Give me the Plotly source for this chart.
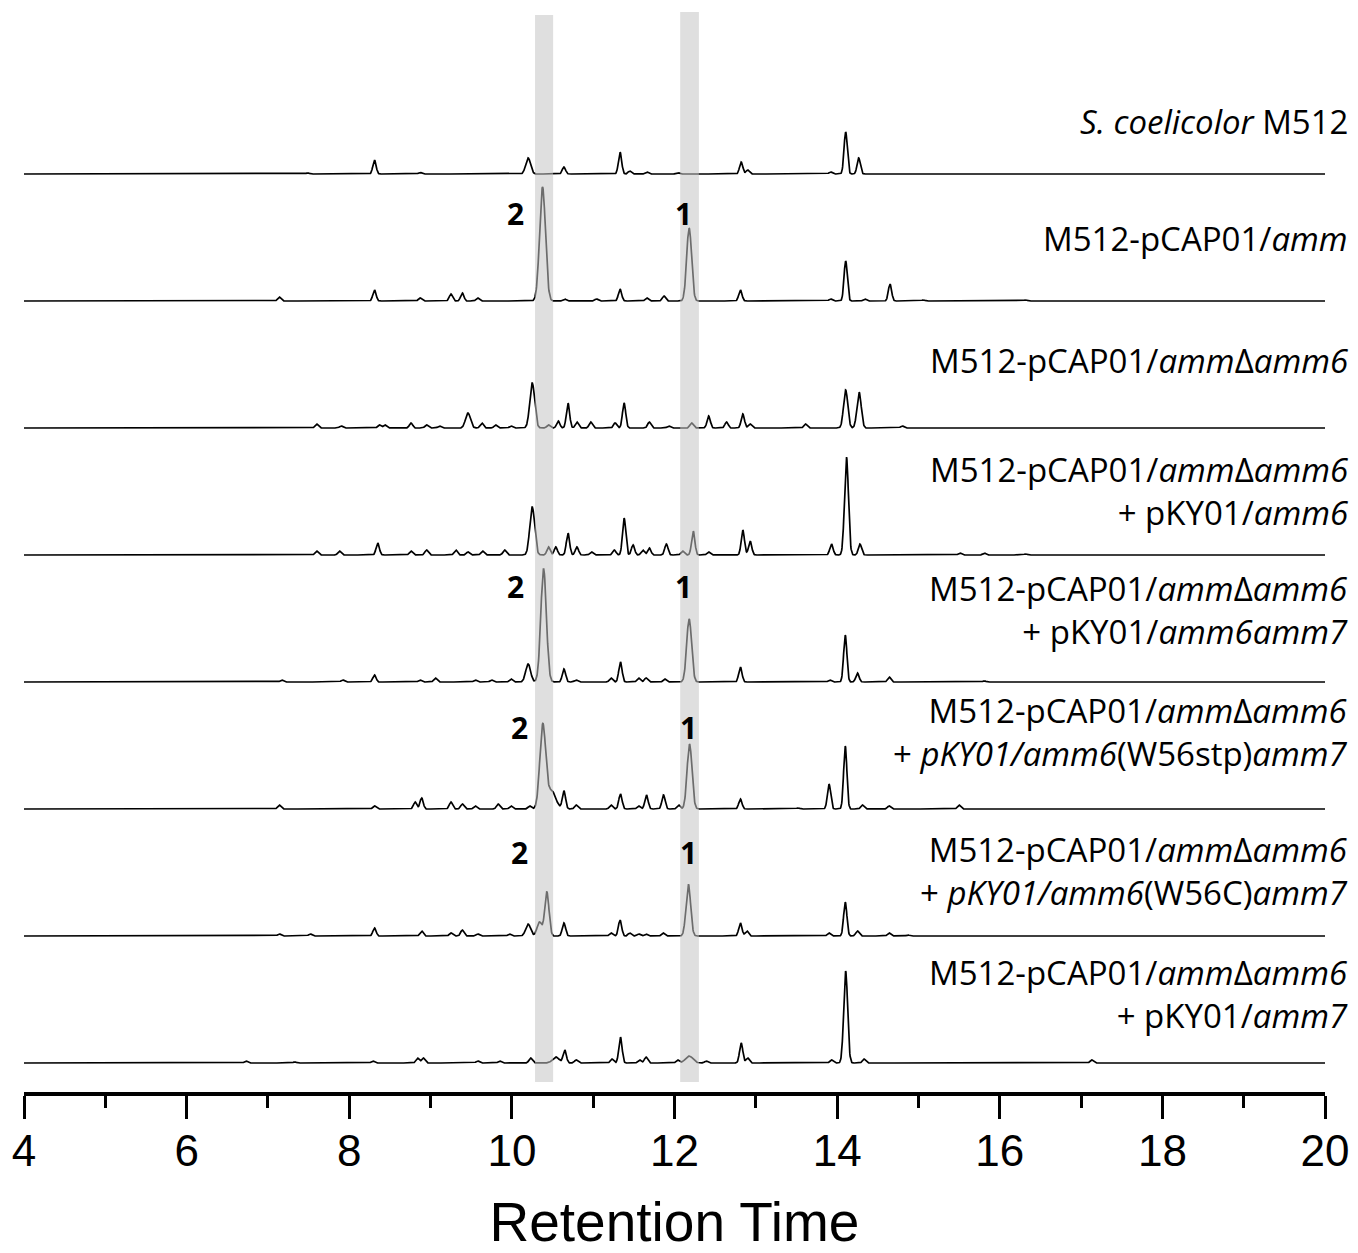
import numpy as np
import plotly.graph_objects as go

# peak tables: (retention time, height[, sigma])
m512_peaks = [(7.49, 1), (8.31, 14), (8.87, 1.5), (10.20, 16, 0.03), (10.64, 7), (11.33, 22),
              (11.45, 3), (11.66, 2), (12.04, 1.5), (12.82, 12), (12.90, 4), (13.92, 2),
              (14.105, 42), (14.265, 16)]
amm_peaks = [(7.14, 4), (8.31, 11), (8.87, 3), (9.25, 7), (9.39, 8), (9.58, 3),
             (10.377, 114, 0.036), (10.65, 2), (11.04, 2), (11.33, 12), (11.66, 3), (11.87, 5),
             (12.18, 73, 0.03), (12.81, 11), (13.92, 2), (14.105, 40), (14.34, 2), (14.65, 17),
             (15.06, 1), (16.32, 1)]
del6_peaks = [(7.60, 4), (7.90, 2), (8.37, 3), (8.44, 3), (8.76, 5), (8.95, 3), (9.11, 2),
              (9.46, 15, 0.03), (9.63, 5), (9.80, 3), (9.99, 2), (10.25, 45, 0.03), (10.45, 3),
              (10.57, 7), (10.69, 25), (10.80, 6), (10.97, 6), (11.27, 5), (11.38, 25), (11.69, 6),
              (11.93, 2), (12.21, 5), (12.42, 12), (12.64, 6), (12.84, 14), (12.93, 4), (13.61, 4),
              (14.105, 38, 0.026), (14.27, 36, 0.026), (14.80, 2)]
amm6_peaks = [(7.60, 4), (7.88, 4), (8.35, 12), (8.76, 4), (8.95, 5), (9.31, 5), (9.46, 3),
              (9.64, 4), (9.91, 5), (10.25, 48, 0.03), (10.45, 8), (10.54, 8), (10.69, 22),
              (10.80, 8), (10.98, 3), (11.26, 5), (11.38, 37), (11.49, 10), (11.61, 5), (11.69, 7),
              (11.90, 11), (12.10, 4), (12.23, 24), (12.42, 3), (12.84, 25), (12.93, 14),
              (13.93, 11), (14.115, 98, 0.024), (14.28, 11), (15.51, 2), (15.81, 2), (16.32, 1)]
amm6amm7_peaks = [(7.17, 2), (7.92, 2), (8.31, 7), (8.87, 2), (9.06, 4), (9.55, 2), (9.75, 2),
                  (9.99, 3), (10.20, 18, 0.03), (10.39, 113, 0.034), (10.64, 13), (10.79, 2),
                  (11.22, 4), (11.335, 20), (11.56, 4), (11.65, 4), (11.88, 3), (12.18, 63, 0.03),
                  (12.81, 15), (13.91, 2), (14.10, 47), (14.25, 9), (14.64, 5), (15.81, 1)]
w56stp_peaks = [(7.14, 4), (8.31, 3), (8.81, 7), (8.89, 11), (9.25, 7), (9.39, 5), (9.55, 3),
                (9.83, 5), (9.99, 3), (10.22, 3), (10.38, 84, 0.036), (10.49, 18, 0.05),
                (10.64, 18), (10.79, 4), (11.22, 4), (11.335, 15), (11.56, 3), (11.655, 14),
                (11.865, 14), (12.05, 4), (12.185, 65, 0.03), (12.81, 10), (13.52, 1),
                (13.90, 25), (14.10, 63), (14.31, 4), (14.64, 3), (15.50, 4)]
w56c_peaks = [(7.14, 2), (7.52, 2), (8.31, 8), (8.89, 5), (9.25, 3), (9.39, 6), (9.58, 2),
              (9.97, 2), (10.20, 12, 0.03), (10.34, 14, 0.03), (10.43, 44, 0.026), (10.64, 13),
              (11.22, 3), (11.33, 16), (11.45, 3), (11.56, 2), (11.65, 2), (11.86, 3),
              (12.17, 52, 0.028), (12.81, 13), (12.89, 5), (13.90, 3), (14.10, 34), (14.25, 5),
              (14.64, 3), (14.87, 1)]
amm7_peaks = [(6.73, 2), (7.33, 1), (8.29, 2), (8.84, 5), (8.91, 5), (9.58, 2), (9.85, 2),
              (10.23, 5), (10.54, 6, 0.04), (10.65, 13), (10.79, 3), (11.23, 4), (11.335, 26),
              (11.57, 3), (11.65, 6), (12.04, 3), (12.18, 7, 0.045), (12.39, 2), (12.82, 20),
              (12.90, 5), (13.93, 3), (14.105, 92, 0.024), (14.33, 4), (17.13, 3)]

strains = ["<i>S. coelicolor</i> M512",
           "M512-pCAP01/<i>amm</i>",
           "M512-pCAP01/<i>amm</i>Δ<i>amm6</i>",
           "M512-pCAP01/<i>amm</i>Δ<i>amm6</i><br>+ pKY01/<i>amm6</i>",
           "M512-pCAP01/<i>amm</i>Δ<i>amm6</i><br>+ pKY01/<i>amm6amm7</i>",
           "M512-pCAP01/<i>amm</i>Δ<i>amm6</i><br>+ <i>pKY01/amm6</i>(W56stp)<i>amm7</i>",
           "M512-pCAP01/<i>amm</i>Δ<i>amm6</i><br>+ <i>pKY01/amm6</i>(W56C)<i>amm7</i>",
           "M512-pCAP01/<i>amm</i>Δ<i>amm6</i><br>+ pKY01/<i>amm7</i>"]
all_peaks = [m512_peaks, amm_peaks, del6_peaks, amm6_peaks,
             amm6amm7_peaks, w56stp_peaks, w56c_peaks, amm7_peaks]

# highlighted compounds 1 and 2
band_2 = (10.285, 10.507)
band_1 = (12.07, 12.30)

# layout positions
STEP = 127
BASE = 29
label_dy = [53, 63, 68, 64, 72, 77, 65, 69]
num_marks = {1: (10.05, 12.11, 88), 4: (10.05, 12.11, 96), 5: (10.09, 12.17, 82), 6: (10.09, 12.17, 84)}

rt = np.arange(4, 20.0001, 0.004)
fig = go.Figure()
n = len(all_peaks)
for i, pk in enumerate(all_peaks):
    off = BASE + STEP * (n - 1 - i)
    sig = np.zeros_like(rt)
    for p in pk:
        w = p[2] if len(p) > 2 else 0.02
        sig += p[1] * np.exp(-0.5 * ((rt - p[0]) / w) ** 2)
    fig.add_trace(go.Scatter(x=rt, y=sig + off, mode="lines",
                             line=dict(color="black", width=1.7), hoverinfo="skip"))
    fig.add_annotation(x=1.0192, xref="paper", y=off + label_dy[i], yref="y",
                       text=strains[i], showarrow=False, xanchor="right", yanchor="middle",
                       align="right", font=dict(family="Open Sans", size=33, color="black"))
    if i in num_marks:
        x2, x1, dy = num_marks[i]
        for xx, t in ((x2, "2"), (x1, "1")):
            fig.add_annotation(x=xx, y=off + dy, text="<b>%s</b>" % t, showarrow=False,
                               font=dict(family="Open Sans", size=30, color="black"))

for b, top in ((band_2, 1077), (band_1, 1080)):
    fig.add_shape(type="rect", x0=b[0], x1=b[1], y0=10, y1=top, xref="x", yref="y",
                  fillcolor="#c4c4c4", opacity=0.55, line_width=0, layer="above")

fig.update_layout(
    width=1358, height=1253,
    margin=dict(l=24, r=33, t=0, b=161, autoexpand=False),
    plot_bgcolor="white", paper_bgcolor="white",
    showlegend=False,
    xaxis=dict(range=[4, 20], showgrid=False, zeroline=False,
               showline=True, linecolor="black", linewidth=3.5,
               ticks="outside", ticklen=23, tickwidth=3, tickcolor="black",
               dtick=2, tick0=4, ticklabelstandoff=-6,
               tickfont=dict(family="Arial, Liberation Sans", size=44, color="black"),
               minor=dict(ticks="outside", ticklen=12, tickwidth=3, tickcolor="black", dtick=1),
               title=dict(text="Retention Time", standoff=69,
                          font=dict(family="Arial, Liberation Sans", size=55, color="black"))),
    yaxis=dict(range=[0, 1092], visible=False, fixedrange=True),
)

fig.write_html("out.html", config={"displayModeBar": False},
               post_script="document.body.style.margin='0';document.body.style.overflow='hidden';")
